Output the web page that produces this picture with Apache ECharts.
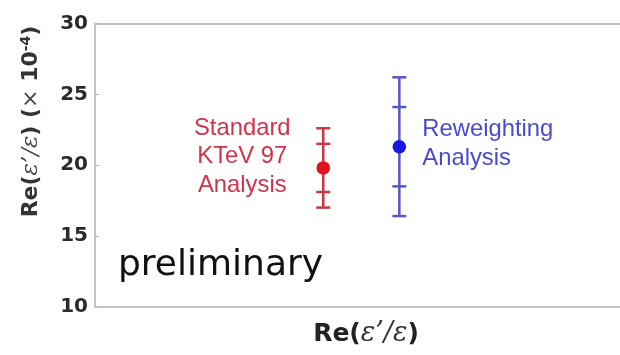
<!DOCTYPE html>
<html><head><meta charset="utf-8">
<script src="https://cdn.jsdelivr.net/npm/echarts@6/dist/echarts.min.js"></script>
<style>html,body{margin:0;padding:0;background:#fff}#c{width:620px;height:355px}</style>
</head><body><div id="c"></div>
<script>
// ---- data ----
const analyses = ['Standard KTeV 97 Analysis', 'Reweighting Analysis'];
const labelLines = [['Standard', 'KTeV 97', 'Analysis'], ['Reweighting', 'Analysis']];
const xPositions = [3, 4];
const centralValues = [19.8, 21.3];
const statErrors = [1.7, 2.8];
const totalErrors = [2.8, 4.9];
const yTicks = [10, 15, 20, 25, 30];

// ---- styling / layout (not data) ----
const barColors = ['#c43a44', '#5656c6'];
const dotColors = ['#e0141e', '#1818e4'];
const textColors = ['#d2324a', '#4a4ad0'];
const labelLayout = [
  { dx: -81, align: 'center', y0: 128 },
  { dx: 23, align: 'left', y0: 129.5 }
];
const lineGap = 28.5;
const frame = { color: '#c4c4c4', width: 2 };

const chart = echarts.init(document.getElementById('c'), null, { renderer: 'canvas' });

const seriesData = xPositions.map((x, i) => [x, centralValues[i], statErrors[i], totalErrors[i]]);

function renderItem(params, api) {
  const i = params.dataIndex;
  const x = api.value(0), c = api.value(1), s = api.value(2), t = api.value(3);
  const p = api.coord([x, c]);
  const tTop = api.coord([x, c + t]), tBot = api.coord([x, c - t]);
  const sTop = api.coord([x, c + s]), sBot = api.coord([x, c - s]);
  const col = barColors[i];
  const hw = 7;
  const ls = { stroke: col, lineWidth: 2.5 };
  const children = [
    { type: 'line', shape: { x1: p[0], y1: tTop[1], x2: p[0], y2: tBot[1] }, style: ls },
    { type: 'line', shape: { x1: p[0] - hw, y1: tTop[1], x2: p[0] + hw, y2: tTop[1] }, style: ls },
    { type: 'line', shape: { x1: p[0] - hw, y1: tBot[1], x2: p[0] + hw, y2: tBot[1] }, style: ls },
    { type: 'line', shape: { x1: p[0] - hw, y1: sTop[1], x2: p[0] + hw, y2: sTop[1] }, style: ls },
    { type: 'line', shape: { x1: p[0] - hw, y1: sBot[1], x2: p[0] + hw, y2: sBot[1] }, style: ls },
    { type: 'circle', shape: { cx: p[0], cy: p[1], r: 6.8 }, style: { fill: dotColors[i] } }
  ];
  const lay = labelLayout[i];
  labelLines[i].forEach((txt, k) => {
    children.push({
      type: 'text',
      x: p[0] + lay.dx,
      y: lay.y0 + k * lineGap,
      style: {
        text: txt, fill: textColors[i], fontSize: 23.8,
        fontFamily: 'Liberation Sans, Arial, sans-serif',
        align: lay.align, verticalAlign: 'middle'
      }
    });
  });
  return { type: 'group', children };
}

const hiddenX = {
  type: 'value', min: 0, max: 6.9,
  axisTick: { show: false }, axisLabel: { show: false }, splitLine: { show: false },
  axisLine: { show: true, onZero: false, lineStyle: frame }
};

chart.setOption({
  animation: false,
  backgroundColor: '#fff',
  grid: { left: 95, right: 0, top: 23.5, bottom: 48.3 },
  xAxis: [
    Object.assign({ position: 'bottom' }, hiddenX),
    Object.assign({ position: 'top' }, hiddenX)
  ],
  yAxis: {
    type: 'value', min: yTicks[0], max: yTicks[yTicks.length - 1], interval: 5,
    axisLine: { show: true, onZero: false, lineStyle: frame },
    axisTick: { show: true, inside: true, length: 4, lineStyle: { color: '#b4b4b4', width: 1 } },
    splitLine: { show: false },
    axisLabel: {
      fontFamily: 'DejaVu Sans', fontWeight: 'bold', fontSize: 20, color: '#2a2a2a', margin: 7
    }
  },
  graphic: [
    {
      type: 'text', left: 118, top: 248,
      style: { text: 'preliminary', fontFamily: 'DejaVu Sans', fontSize: 36, fill: '#111' }
    },
    {
      type: 'text', x: 366, y: 334,
      style: {
        text: '{b|Re(}{e|ε\u2019/ε}{b|)}',
        align: 'center', verticalAlign: 'middle',
        rich: {
          b: { fontFamily: 'DejaVu Sans', fontWeight: 'bold', fontSize: 25, fill: '#222' },
          e: { fontFamily: 'DejaVu Serif', fontStyle: 'italic', fontSize: 27, fill: '#333' }
        }
      }
    },
    {
      type: 'text', x: 31, y: 121.5, rotation: Math.PI / 2,
      style: {
        text: '{b|Re(}{e|ε\u2019/ε}{b|) (}{n|×}{b| 10}{s|-4}{b|)}',
        align: 'center', verticalAlign: 'middle',
        rich: {
          b: { fontFamily: 'DejaVu Sans', fontWeight: 'bold', fontSize: 22, fill: '#333' },
          e: { fontFamily: 'DejaVu Serif', fontStyle: 'italic', fontSize: 23, fill: '#444' },
          n: { fontFamily: 'DejaVu Sans', fontSize: 22, fill: '#444' },
          s: { fontFamily: 'DejaVu Sans', fontWeight: 'bold', fontSize: 14, fill: '#333', verticalAlign: 'top', padding: [0, 0, 10, 0] }
        }
      }
    }
  ],
  series: [{
    type: 'custom',
    name: 'Re(ε\'/ε)',
    renderItem: renderItem,
    data: seriesData,
    clip: false
  }]
});
</script>
</body></html>
